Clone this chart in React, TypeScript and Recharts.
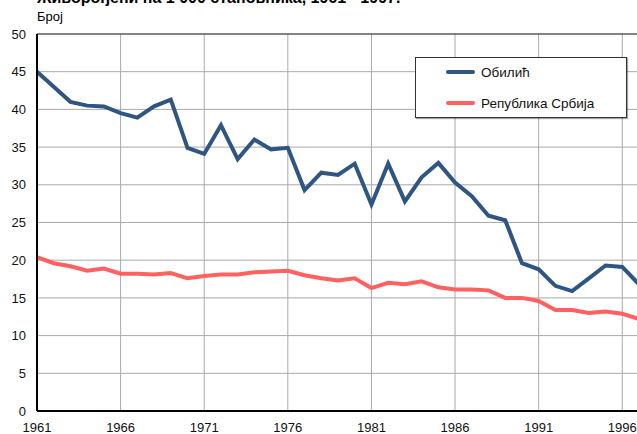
import React from "react"
import { LineChart, Line, XAxis, YAxis, CartesianGrid, ReferenceLine } from "recharts"

const years = [
  1961, 1962, 1963, 1964, 1965, 1966, 1967, 1968, 1969, 1970,
  1971, 1972, 1973, 1974, 1975, 1976, 1977, 1978, 1979, 1980,
  1981, 1982, 1983, 1984, 1985, 1986, 1987, 1988, 1989, 1990,
  1991, 1992, 1993, 1994, 1995, 1996, 1997,
]

const obilic = [
  45.0, 43.0, 41.0, 40.5, 40.4, 39.5, 38.9, 40.4, 41.3, 34.9,
  34.1, 37.9, 33.4, 36.0, 34.7, 34.9, 29.3, 31.6, 31.3, 32.8,
  27.4, 32.8, 27.8, 31.0, 32.9, 30.3, 28.5, 25.9, 25.3, 19.6,
  18.8, 16.6, 15.9, 17.6, 19.3, 19.1, 16.8,
]

const srbija = [
  20.4, 19.6, 19.2, 18.6, 18.9, 18.2, 18.2, 18.1, 18.3, 17.6,
  17.9, 18.1, 18.1, 18.4, 18.5, 18.6, 18.0, 17.6, 17.3, 17.6,
  16.3, 17.0, 16.8, 17.2, 16.4, 16.1, 16.1, 16.0, 15.0, 15.0,
  14.6, 13.4, 13.4, 13.0, 13.2, 12.9, 12.2,
]

const xTicks = [1961, 1966, 1971, 1976, 1981, 1986, 1991, 1996]
const yTicks = [0, 5, 10, 15, 20, 25, 30, 35, 40, 45, 50]

const seriesNames = ["Обилић", "Република Србија"]
const seriesColors = ["#2f5583", "#ff6161"]

const title = "Живорођени на 1 000 становника, 1961 - 1997."
const unitLabel = "Број"

const data = years.map((year, i) => ({ year, a: obilic[i], b: srbija[i] }))

const font = "'Liberation Sans', Arial, sans-serif"

function LegendBox() {
  return (
    <div
      style={{
        position: "absolute",
        left: 415,
        top: 57,
        width: 210,
        height: 59,
        border: "1px solid #333",
        background: "#fff",
        boxShadow: "1px 1px 1px rgba(0,0,0,0.35)",
        fontFamily: font,
        fontSize: 13.5,
        color: "#111",
      }}
    >
      {seriesNames.map((name, i) => (
        <div
          key={name}
          style={{ position: "absolute", left: 30, top: 6 + i * 31, height: 16, display: "flex", alignItems: "center" }}
        >
          <div style={{ width: 29, height: 4, borderRadius: 2, background: seriesColors[i], marginRight: 6 }} />
          <span>{name}</span>
        </div>
      ))}
    </div>
  )
}

export default function App() {
  return (
    <div style={{ position: "fixed", left: 0, top: 0, width: 637, height: 434, overflow: "hidden", background: "#fff" }}>
      <div
        style={{
          position: "absolute", left: 37, top: -10.5, fontFamily: font, fontWeight: "bold",
          fontSize: 16, lineHeight: "16px", whiteSpace: "nowrap", color: "#000",
        }}
      >
        {title}
      </div>
      <div style={{ position: "absolute", left: 37, top: 10, fontFamily: font, fontSize: 13, lineHeight: "13px", color: "#000" }}>
        {unitLabel}
      </div>
      <div style={{ position: "absolute", left: 0, top: 0 }}>
        <LineChart width={639} height={434} data={data} margin={{ top: 34, right: 0, bottom: 0, left: 0 }}>
          <CartesianGrid stroke="#a9a9a9" strokeWidth={1} horizontalValues={yTicks} verticalValues={xTicks} />
          <XAxis
            dataKey="year"
            type="number"
            domain={[1961, 1997]}
            ticks={xTicks}
            height={23}
            tickLine={false}
            tickMargin={6}
            axisLine={{ stroke: "#000", strokeWidth: 2 }}
            tick={{ fontSize: 13, fill: "#111", fontFamily: font }}
            interval={0}
          />
          <YAxis
            domain={[0, 50]}
            ticks={yTicks}
            width={37}
            tickLine={false}
            tickMargin={5}
            axisLine={{ stroke: "#000", strokeWidth: 2 }}
            tick={{ fontSize: 13, fill: "#111", fontFamily: font }}
            interval={0}
          />
          <ReferenceLine y={50} stroke="#333" strokeWidth={1} />
          <Line dataKey="a" name={seriesNames[0]} stroke={seriesColors[0]} strokeWidth={4} dot={false} isAnimationActive={false} />
          <Line dataKey="b" name={seriesNames[1]} stroke={seriesColors[1]} strokeWidth={4} dot={false} isAnimationActive={false} />
        </LineChart>
      </div>
      <LegendBox />
    </div>
  )
}
